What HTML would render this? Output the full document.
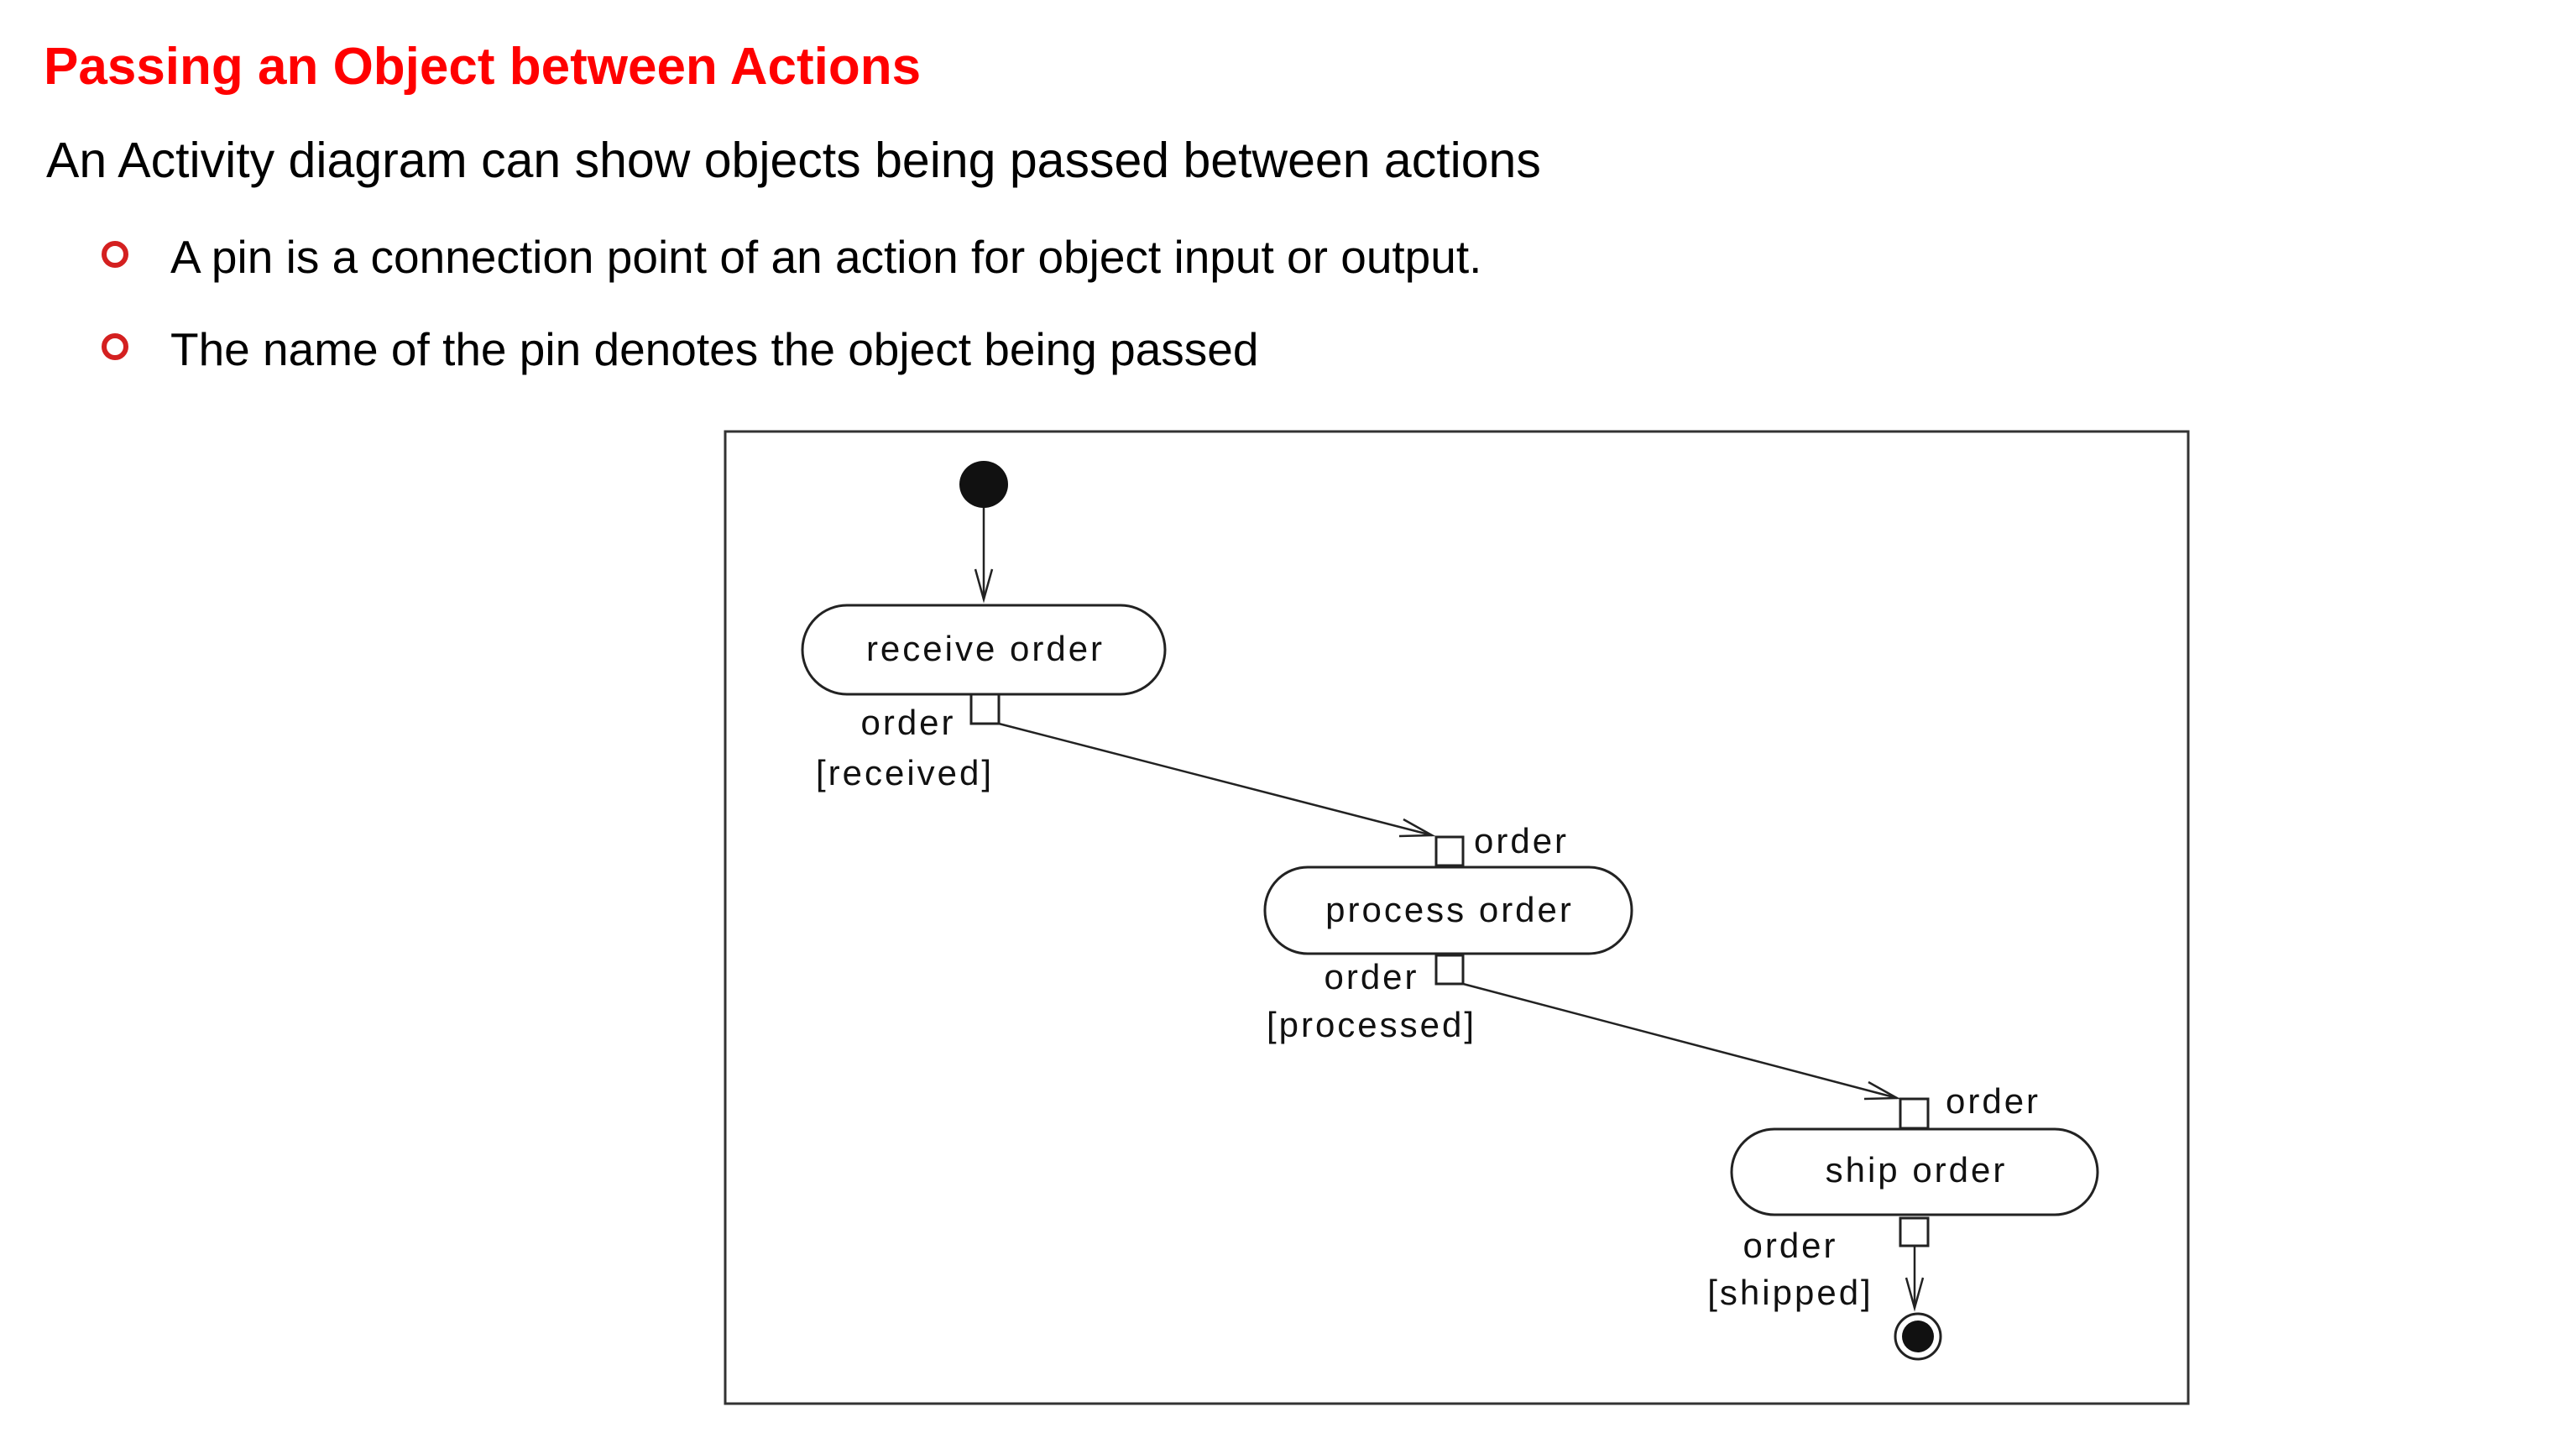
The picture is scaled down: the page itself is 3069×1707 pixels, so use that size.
<!DOCTYPE html>
<html><head><meta charset="utf-8"><style>
html,body{margin:0;padding:0;background:#fff;}
svg{display:block;}
</style></head><body>
<svg width="3069" height="1707" viewBox="0 0 3069 1707" xmlns="http://www.w3.org/2000/svg" font-family="Liberation Sans, Arial, sans-serif">
<rect width="3069" height="1707" fill="#fff"/>
<text x="52" y="100" font-size="62" font-weight="bold" fill="#ff0000">Passing an Object between Actions</text>
<text x="55" y="211" font-size="59" fill="#000">An Activity diagram can show objects being passed between actions</text>
<circle cx="137" cy="303" r="13" fill="none" stroke="#d42020" stroke-width="6"/>
<text x="203" y="325" font-size="55" fill="#000">A pin is a connection point of an action for object input or output.</text>
<circle cx="137" cy="413" r="13" fill="none" stroke="#d42020" stroke-width="6"/>
<text x="203" y="435" font-size="55" fill="#000">The name of the pin denotes the object being passed</text>

<rect x="864" y="514" width="1743" height="1158" fill="none" stroke="#333" stroke-width="3"/>

<g stroke="#222" fill="none" stroke-width="2.5">
<line x1="1172" y1="590" x2="1172" y2="714"/>
<polyline points="1162,678 1172,714 1182,678"/>
<rect x="956" y="721" width="432" height="106" rx="53" ry="53" stroke-width="3"/>
<rect x="1507" y="1033" width="437" height="103" rx="51" ry="51" stroke-width="3"/>
<rect x="2063" y="1345" width="436" height="102" rx="51" ry="51" stroke-width="3"/>
<rect x="1157" y="827" width="33" height="35" fill="#fff" stroke-width="3"/>
<rect x="1711" y="997" width="32" height="34" fill="#fff" stroke-width="3"/>
<rect x="1711" y="1138" width="32" height="34" fill="#fff" stroke-width="3"/>
<rect x="2264" y="1309" width="33" height="35" fill="#fff" stroke-width="3"/>
<rect x="2264" y="1451" width="33" height="33" fill="#fff" stroke-width="3"/>
<line x1="1190" y1="862" x2="1706" y2="995"/>
<polyline points="1672,976 1706,995 1667,996"/>
<line x1="1743" y1="1172" x2="2260" y2="1308"/>
<polyline points="2226,1289 2260,1308 2221,1309"/>
<line x1="2281" y1="1484" x2="2281" y2="1558"/>
<polyline points="2271,1522 2281,1558 2291,1522"/>
<circle cx="2285" cy="1592" r="27" stroke-width="3"/>
</g>
<ellipse cx="1172" cy="577" rx="29" ry="28" fill="#111"/>
<circle cx="2285" cy="1592" r="19" fill="#111"/>

<g font-size="42" fill="#111" letter-spacing="3">
<text x="1174" y="787" text-anchor="middle">receive order</text>
<text x="1727" y="1098" text-anchor="middle">process order</text>
<text x="2283" y="1408" text-anchor="middle">ship order</text>
<text x="1082" y="875" text-anchor="middle">order</text>
<text x="1078" y="935" text-anchor="middle">[received]</text>
<text x="1756" y="1016">order</text>
<text x="1634" y="1178" text-anchor="middle">order</text>
<text x="1634" y="1235" text-anchor="middle">[processed]</text>
<text x="2318" y="1326">order</text>
<text x="2133" y="1498" text-anchor="middle">order</text>
<text x="2133" y="1554" text-anchor="middle">[shipped]</text>
</g>
</svg>
</body></html>
